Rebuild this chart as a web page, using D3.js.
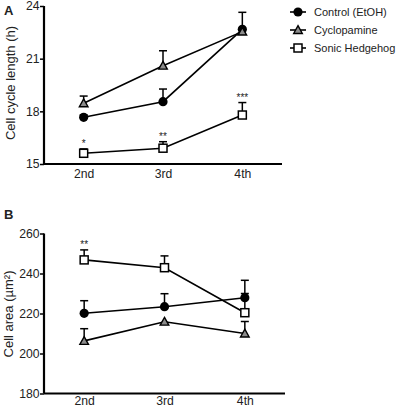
<!DOCTYPE html>
<html>
<head>
<meta charset="utf-8">
<script src="https://cdn.jsdelivr.net/npm/d3@7"></script>
<style>
  body { margin: 0; background: #fff; }
  text { font-family: "Liberation Sans", Arial, sans-serif; fill: #222; }
</style>
</head>
<body>
<svg id="chart" width="397" height="407"></svg>
<script>
// categories (passage)
const passages = ['2nd', '3rd', '4th'];
const seriesNames = ['Control (EtOH)', 'Cyclopamine', 'Sonic Hedgehog'];

// Panel A: cell cycle length (h), mean and upper error
const cycleControl = [17.66, 18.55, 22.67];
const cycleControlErr = [17.8, 19.27, 23.64];
const cycleCyclo = [18.46, 20.6, 22.54];
const cycleCycloErr = [18.87, 21.45, 22.6];
const cycleShh = [15.61, 15.9, 17.79];
const cycleShhErr = [15.86, 16.27, 18.5];
const cycleStars = ['*', '**', '***'];
const cycleTicks = [15, 18, 21, 24];

// Panel B: cell area (µm²)
const areaControl = [220.1, 223.4, 227.9];
const areaControlErr = [226.4, 229.9, 236.6];
const areaCyclo = [206.3, 215.9, 210.0];
const areaCycloErr = [212.4, 216.5, 216.0];
const areaShh = [246.8, 242.9, 220.4];
const areaShhErr = [251.8, 248.8, 230.0];
const areaStars = ['**', '', ''];
const areaTicks = [180, 200, 220, 240, 260];

const svg = d3.select('#chart');

// marker helpers
function drawMarker(g, kind, x, y) {
  if (kind === 0) {
    g.append('circle').attr('cx', x).attr('cy', y).attr('r', 4.6)
      .attr('fill', '#000');
  } else if (kind === 1) {
    const s = 4.3;
    g.append('path')
      .attr('d', `M${x},${y - s}L${x + s},${y + s * 0.8}L${x - s},${y + s * 0.8}Z`)
      .attr('fill', '#8c8c8c').attr('stroke', '#000').attr('stroke-width', 1.4);
  } else {
    g.append('rect').attr('x', x - 4).attr('y', y - 4).attr('width', 8).attr('height', 8)
      .attr('fill', '#fff').attr('stroke', '#000').attr('stroke-width', 1.5);
  }
}

function panel(opts) {
  const { top, bottom, xRange, domain, ticks, series, errs, stars, starSeries,
    label, labelY, ylab, ylabX, ylabY, xPad } = opts;
  const g = svg.append('g');
  const x = d3.scalePoint().domain(passages).range(xRange).padding(0.5);
  const y = d3.scaleLinear().domain(domain).range([bottom, top]);

  // axes
  const yAxis = g.append('g').attr('transform', `translate(${xRange[0]},0)`)
    .call(d3.axisLeft(y).tickValues(ticks).tickSize(4).tickPadding(0.5));
  const xAxis = g.append('g').attr('transform', `translate(0,${bottom})`)
    .call(d3.axisBottom(x).tickSize(0).tickPadding(xPad));
  [yAxis, xAxis].forEach(a => {
    a.select('.domain').attr('stroke', '#000').attr('stroke-width', 2.2);
    a.selectAll('.tick line').attr('stroke', '#000').attr('stroke-width', 1.5);
    a.selectAll('.tick text').style('font-size', '12.2px').attr('fill', '#222');
  });
  yAxis.select('.domain').attr('d', `M0,${top}V${bottom}`);
  xAxis.select('.domain').attr('d', `M${xRange[0]},0H${xRange[1]}`);

  // axis label
  g.append('text')
    .attr('transform', `translate(${ylabX},${ylabY}) rotate(-90)`)
    .attr('text-anchor', 'middle')
    .style('font-size', '13px')
    .text(ylab);
  g.append('text').attr('x', 4).attr('y', labelY)
    .style('font-size', '13px').style('font-weight', 'bold').attr('fill', '#111')
    .text(label);

  const line = d3.line().x((d, i) => x(passages[i])).y(d => y(d));

  // error bars (upper only)
  series.forEach((vals, s) => {
    vals.forEach((v, i) => {
      const cx = x(passages[i]);
      const ye = y(errs[s][i]);
      g.append('line').attr('x1', cx).attr('x2', cx).attr('y1', y(v)).attr('y2', ye)
        .attr('stroke', '#000').attr('stroke-width', 1.5);
      if (errs[s][i] - v > 0.3 * (domain[1] - domain[0]) / 40) {
        g.append('line').attr('x1', cx - 4).attr('x2', cx + 4).attr('y1', ye).attr('y2', ye)
          .attr('stroke', '#000').attr('stroke-width', 1.5);
      }
    });
  });

  // lines
  series.forEach(vals => {
    g.append('path').datum(vals).attr('d', line)
      .attr('fill', 'none').attr('stroke', '#000').attr('stroke-width', 1.6);
  });

  // markers
  series.forEach((vals, s) => {
    vals.forEach((v, i) => drawMarker(g, s, x(passages[i]), y(v)));
  });

  // significance stars
  stars.forEach((st, i) => {
    if (!st) return;
    g.append('text')
      .attr('x', x(passages[i])).attr('y', y(errs[starSeries][i]) - 2)
      .attr('text-anchor', 'middle').style('font-size', '10px').attr('fill', '#000')
      .text(st);
  });
}

panel({
  top: 6, bottom: 164, xRange: [44, 282], domain: [15, 24], ticks: cycleTicks,
  series: [cycleControl, cycleCyclo, cycleShh],
  errs: [cycleControlErr, cycleCycloErr, cycleShhErr],
  stars: cycleStars, starSeries: 2, label: 'A', labelY: 15,
  ylab: 'Cell cycle length (h)', ylabX: 15, ylabY: 83, xPad: 5
});

panel({
  top: 233.5, bottom: 393.5, xRange: [44, 285], domain: [180, 260], ticks: areaTicks,
  series: [areaControl, areaCyclo, areaShh],
  errs: [areaControlErr, areaCycloErr, areaShhErr],
  stars: areaStars, starSeries: 2, label: 'B', labelY: 219,
  ylab: 'Cell area (µm²)', ylabX: 13, ylabY: 314, xPad: 2.5
});

// legend
const legend = svg.append('g');
seriesNames.forEach((name, i) => {
  const ly = 12 + i * 18;
  legend.append('line').attr('x1', 290).attr('x2', 306).attr('y1', ly).attr('y2', ly)
    .attr('stroke', '#000').attr('stroke-width', 1.6);
  drawMarker(legend, i, 298, ly);
  legend.append('text').attr('x', 314).attr('y', ly + 4)
    .style('font-size', '11px').text(name);
});
</script>
</body>
</html>
